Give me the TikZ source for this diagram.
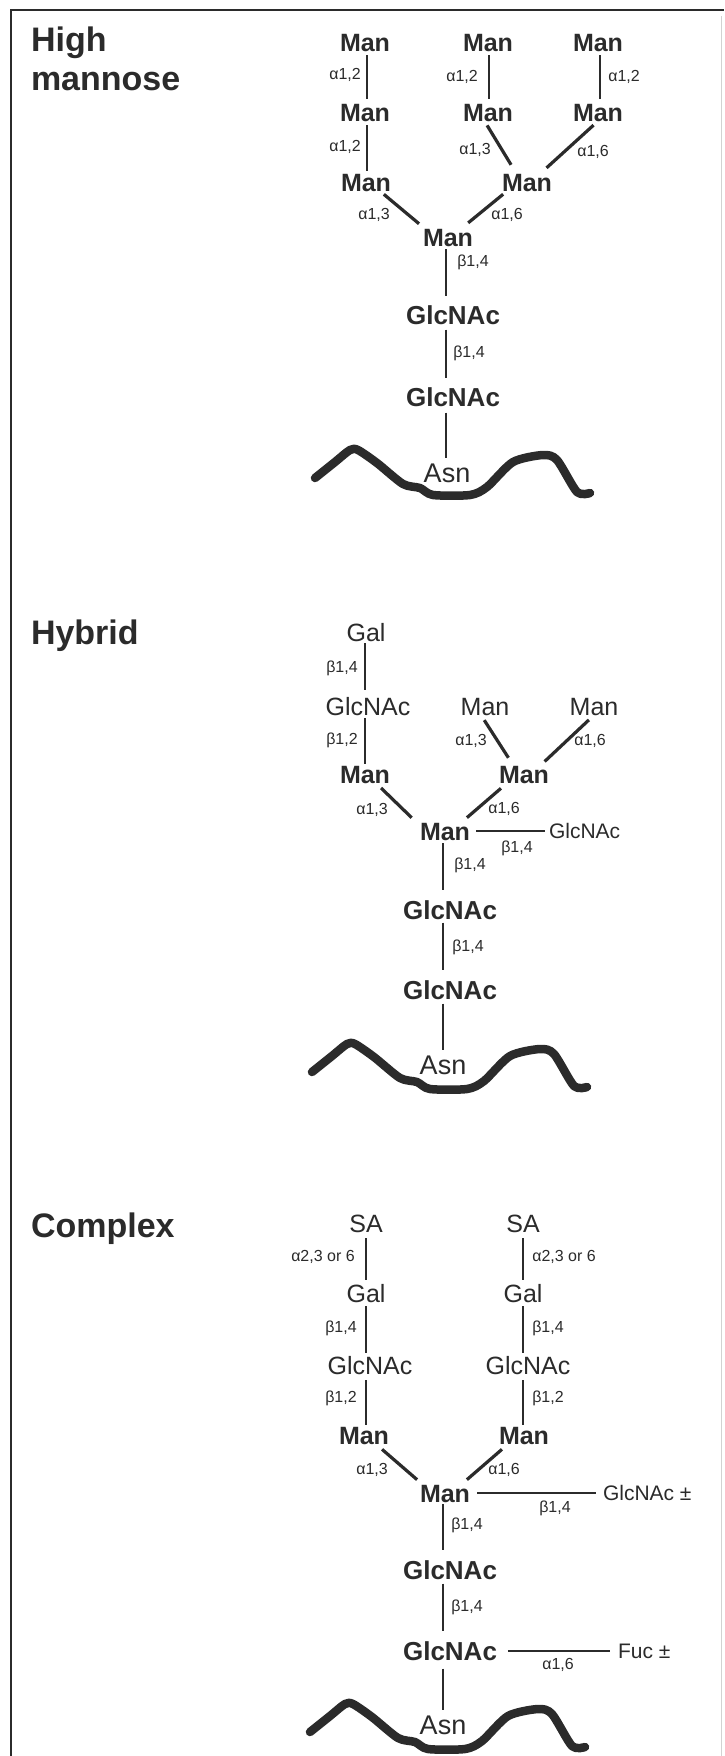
\documentclass[tikz,border=0pt]{standalone}
\usepackage{fontspec}
\setmainfont{Liberation Sans}
\definecolor{ink}{HTML}{2B2B2B}

% backbone of the protein drawn under each glycan
\newcommand{\backbonewave}{%
  \draw[wave] plot[smooth, tension=0.45] coordinates {
    (315,478) (335,462) (350,450) (358,450) (377,463) (403,484) (420,488)
    (433,495) (470,495) (487,487) (513,462) (543,455) (557,460) (577,492)
    (590,493)};}

\begin{document}
\begin{tikzpicture}[x=1pt,y=-1pt,
  every node/.style={inner sep=0pt, outer sep=0pt, text=ink},
  head/.style={font=\bfseries\fontsize{34}{39}\selectfont, align=left, anchor=north west},
  manb/.style={font=\bfseries\fontsize{25}{28}\selectfont, text height=18.2pt, text depth=0pt},
  glcb/.style={font=\bfseries\fontsize{26}{30}\selectfont, text height=19pt, text depth=0pt},
  resr/.style={font=\fontsize{25}{28}\selectfont, text height=18.2pt, text depth=0pt},
  ress/.style={font=\fontsize{21}{24}\selectfont, text height=15.3pt, text depth=0pt, anchor=west},
  asn/.style={font=\fontsize{27}{30}\selectfont, text height=19.5pt, text depth=0pt},
  lab/.style={font=\fontsize{16}{19}\selectfont},
  bond/.style={draw=ink, line width=2.2pt},
  diag/.style={draw=ink, line width=3.2pt},
  wave/.style={draw=ink, line width=8.5pt, line cap=round, line join=round},
  frame/.style={draw=ink, line width=2pt}]

\useasboundingbox (0,0) rectangle (724,1756);
\fill[white] (0,0) rectangle (724,1756);

% page frame
\draw[frame] (10,10) -- (724,10);
\draw[frame] (11,9) -- (11,1756);
\draw[gray!35, line width=1pt] (721,16) -- (721,1756);

% ---------------- High mannose ----------------
\node[head] (hA) at (31,27) {High\\mannose};
\node[manb] (a1) at (365,42) {Man};
\node[manb] (a2) at (488,42) {Man};
\node[manb] (a3) at (598,42) {Man};
\node[manb] (a4) at (365,112) {Man};
\node[manb] (a5) at (488,112) {Man};
\node[manb] (a6) at (598,112) {Man};
\node[manb] (a7) at (366,182) {Man};
\node[manb] (a8) at (527,182) {Man};
\node[manb] (a9) at (448,237) {Man};
\node[glcb] (a10) at (453,315) {GlcNAc};
\node[glcb] (a11) at (453,397) {GlcNAc};
\coordinate (at) at (446,0);

\begin{scope}
\backbonewave
\end{scope}
\node[asn] (a12) at (447,473) {Asn};

\draw[bond, shorten <=4pt, shorten >=4pt] ([xshift=2pt]a1.south) -- ([xshift=2pt]a4.north);
\draw[bond, shorten <=4pt, shorten >=4pt] ([xshift=1pt]a2.south) -- ([xshift=1pt]a5.north);
\draw[bond, shorten <=4pt, shorten >=4pt] ([xshift=2pt]a3.south) -- ([xshift=2pt]a6.north);
\draw[bond, shorten <=4pt, shorten >=2pt] ([xshift=2pt]a4.south) -- ([xshift=1pt]a7.north);
\draw[diag, shorten <=5pt, shorten >=9.5pt] ([xshift=-3.5pt]a5.south) -- ([xshift=-11pt]a8.north);
\draw[diag, shorten <=6pt, shorten >=7.5pt] (a6.south) -- ([xshift=14pt]a8.north);
\draw[diag, shorten <=5pt, shorten >=6.5pt] ([xshift=14pt]a7.south) -- ([xshift=-24pt]a9.north);
\draw[diag, shorten <=5pt, shorten >=8pt] ([xshift=-20pt]a8.south) -- ([xshift=14pt]a9.north);
\draw[bond, shorten <=3pt, shorten >=10pt] (a9.south -| at) -- (a10.north -| at);
\draw[bond, shorten <=5pt, shorten >=10pt] (a10.south -| at) -- (a11.north -| at);
\draw[bond, shorten <=6pt, shorten >=5pt] (a11.south -| at) -- (a12.north -| at);

\node[lab] (la1) at (345,75) {α1,2};
\node[lab] (la2) at (462,77) {α1,2};
\node[lab] (la3) at (624,77) {α1,2};
\node[lab] (la4) at (345,147) {α1,2};
\node[lab] (la5) at (475,150) {α1,3};
\node[lab] (la6) at (593,152) {α1,6};
\node[lab] (la7) at (374,215) {α1,3};
\node[lab] (la8) at (507,215) {α1,6};
\node[lab] (la9) at (473,262) {β1,4};
\node[lab] (la10) at (469,353) {β1,4};

% ---------------- Hybrid ----------------
\node[head] (hB) at (31,620) {Hybrid};
\node[resr] (b1) at (366,632) {Gal};
\node[resr] (b2) at (368,706) {GlcNAc};
\node[resr] (b3) at (485,706) {Man};
\node[resr] (b4) at (594,706) {Man};
\node[manb] (b5) at (365,774) {Man};
\node[manb] (b6) at (524,774) {Man};
\node[manb] (b7) at (445,831) {Man};
\node[ress] (b8) at (549,831) {GlcNAc};
\node[glcb] (b9) at (450,910) {GlcNAc};
\node[glcb] (b10) at (450,990) {GlcNAc};
\coordinate (bl) at (365,0);
\coordinate (bt) at (443,0);

\begin{scope}[shift={(-3,594)}]
\backbonewave
\end{scope}
\node[asn] (b11) at (443,1065) {Asn};

\draw[bond, shorten <=2pt, shorten >=7pt] (b1.south -| bl) -- (b2.north -| bl);
\draw[bond, shorten <=3pt, shorten >=1pt] (b2.south -| bl) -- (b5.north -| bl);
\draw[diag, shorten <=6pt, shorten >=8.5pt] ([xshift=-4pt]b3.south) -- ([xshift=-11pt]b6.north);
\draw[diag, shorten <=7pt, shorten >=5pt] (b4.south) -- ([xshift=17pt]b6.north);
\draw[diag, shorten <=7pt, shorten >=6pt] ([xshift=11pt]b5.south) -- ([xshift=-29pt]b7.north);
\draw[diag, shorten <=8pt, shorten >=6.5pt] ([xshift=-17pt]b6.south) -- ([xshift=17pt]b7.north);
\draw[diag, line width=2.8pt, shorten <=6pt, shorten >=4pt] (b7.east) -- (b8.west);
\draw[bond, shorten <=3pt, shorten >=11pt] (b7.south -| bt) -- (b9.north -| bt);
\draw[bond, shorten <=3pt, shorten >=11pt] (b9.south -| bt) -- (b10.north -| bt);
\draw[bond, shorten <=4pt, shorten >=5pt] (b10.south -| bt) -- (b11.north -| bt);

\node[lab] (lb1) at (342,668) {β1,4};
\node[lab] (lb2) at (342,740) {β1,2};
\node[lab] (lb3) at (471,741) {α1,3};
\node[lab] (lb4) at (590,741) {α1,6};
\node[lab] (lb5) at (372,810) {α1,3};
\node[lab] (lb6) at (504,809) {α1,6};
\node[lab] (lb7) at (517,848) {β1,4};
\node[lab] (lb8) at (470,865) {β1,4};
\node[lab] (lb9) at (468,947) {β1,4};

% ---------------- Complex ----------------
\node[head] (hC) at (31,1213) {Complex};
\node[resr] (c1) at (366,1223) {SA};
\node[resr] (c2) at (523,1223) {SA};
\node[resr] (c3) at (366,1293) {Gal};
\node[resr] (c4) at (523,1293) {Gal};
\node[resr] (c5) at (370,1365) {GlcNAc};
\node[resr] (c6) at (528,1365) {GlcNAc};
\node[manb] (c7) at (364,1435) {Man};
\node[manb] (c8) at (524,1435) {Man};
\node[manb] (c9) at (445,1493) {Man};
\node[ress] (c10) at (603,1493) {GlcNAc ±};
\node[glcb] (c11) at (450,1570) {GlcNAc};
\node[glcb] (c12) at (450,1651) {GlcNAc};
\node[ress] (c13) at (618,1651) {Fuc ±};
\coordinate (cl) at (366,0);
\coordinate (cr) at (523,0);
\coordinate (ct) at (443,0);

\begin{scope}[shift={(-5,1254)}]
\backbonewave
\end{scope}
\node[asn] (c14) at (443,1725) {Asn};

\draw[bond, shorten <=6pt, shorten >=4pt] (c1.south -| cl) -- (c3.north -| cl);
\draw[bond, shorten <=4pt, shorten >=3pt] (c3.south -| cl) -- (c5.north -| cl);
\draw[bond, shorten <=6pt, shorten >=1pt] (c5.south -| cl) -- (c7.north -| cl);
\draw[bond, shorten <=6pt, shorten >=4pt] (c2.south -| cr) -- (c4.north -| cr);
\draw[bond, shorten <=4pt, shorten >=3pt] (c4.south -| cr) -- (c6.north -| cr);
\draw[bond, shorten <=6pt, shorten >=1pt] (c6.south -| cr) -- (c8.north -| cr);
\draw[diag, shorten <=8pt, shorten >=6.5pt] ([xshift=12pt]c7.south) -- ([xshift=-23pt]c9.north);
\draw[diag, shorten <=8pt, shorten >=6.5pt] ([xshift=-16pt]c8.south) -- ([xshift=17pt]c9.north);
\draw[bond, line width=2.6pt, shorten <=7pt, shorten >=7pt] (c9.east) -- (c10.west);
\draw[bond, line width=2.6pt, shorten <=11pt, shorten >=8pt] (c12.east) -- (c13.west);
\draw[bond, shorten <=2pt, shorten >=11pt] (c9.south -| ct) -- (c11.north -| ct);
\draw[bond, shorten <=4pt, shorten >=11pt] (c11.south -| ct) -- (c12.north -| ct);
\draw[bond, shorten <=8pt, shorten >=5pt] (c12.south -| ct) -- (c14.north -| ct);

\node[lab] (lc1) at (323,1257) {α2,3 or 6};
\node[lab] (lc2) at (564,1257) {α2,3 or 6};
\node[lab] (lc3) at (341,1328) {β1,4};
\node[lab] (lc4) at (548,1328) {β1,4};
\node[lab] (lc5) at (341,1398) {β1,2};
\node[lab] (lc6) at (548,1398) {β1,2};
\node[lab] (lc7) at (372,1470) {α1,3};
\node[lab] (lc8) at (504,1470) {α1,6};
\node[lab] (lc9) at (555,1508) {β1,4};
\node[lab] (lc10) at (467,1525) {β1,4};
\node[lab] (lc11) at (467,1607) {β1,4};
\node[lab] (lc12) at (558,1665) {α1,6};

\end{tikzpicture}
\end{document}
